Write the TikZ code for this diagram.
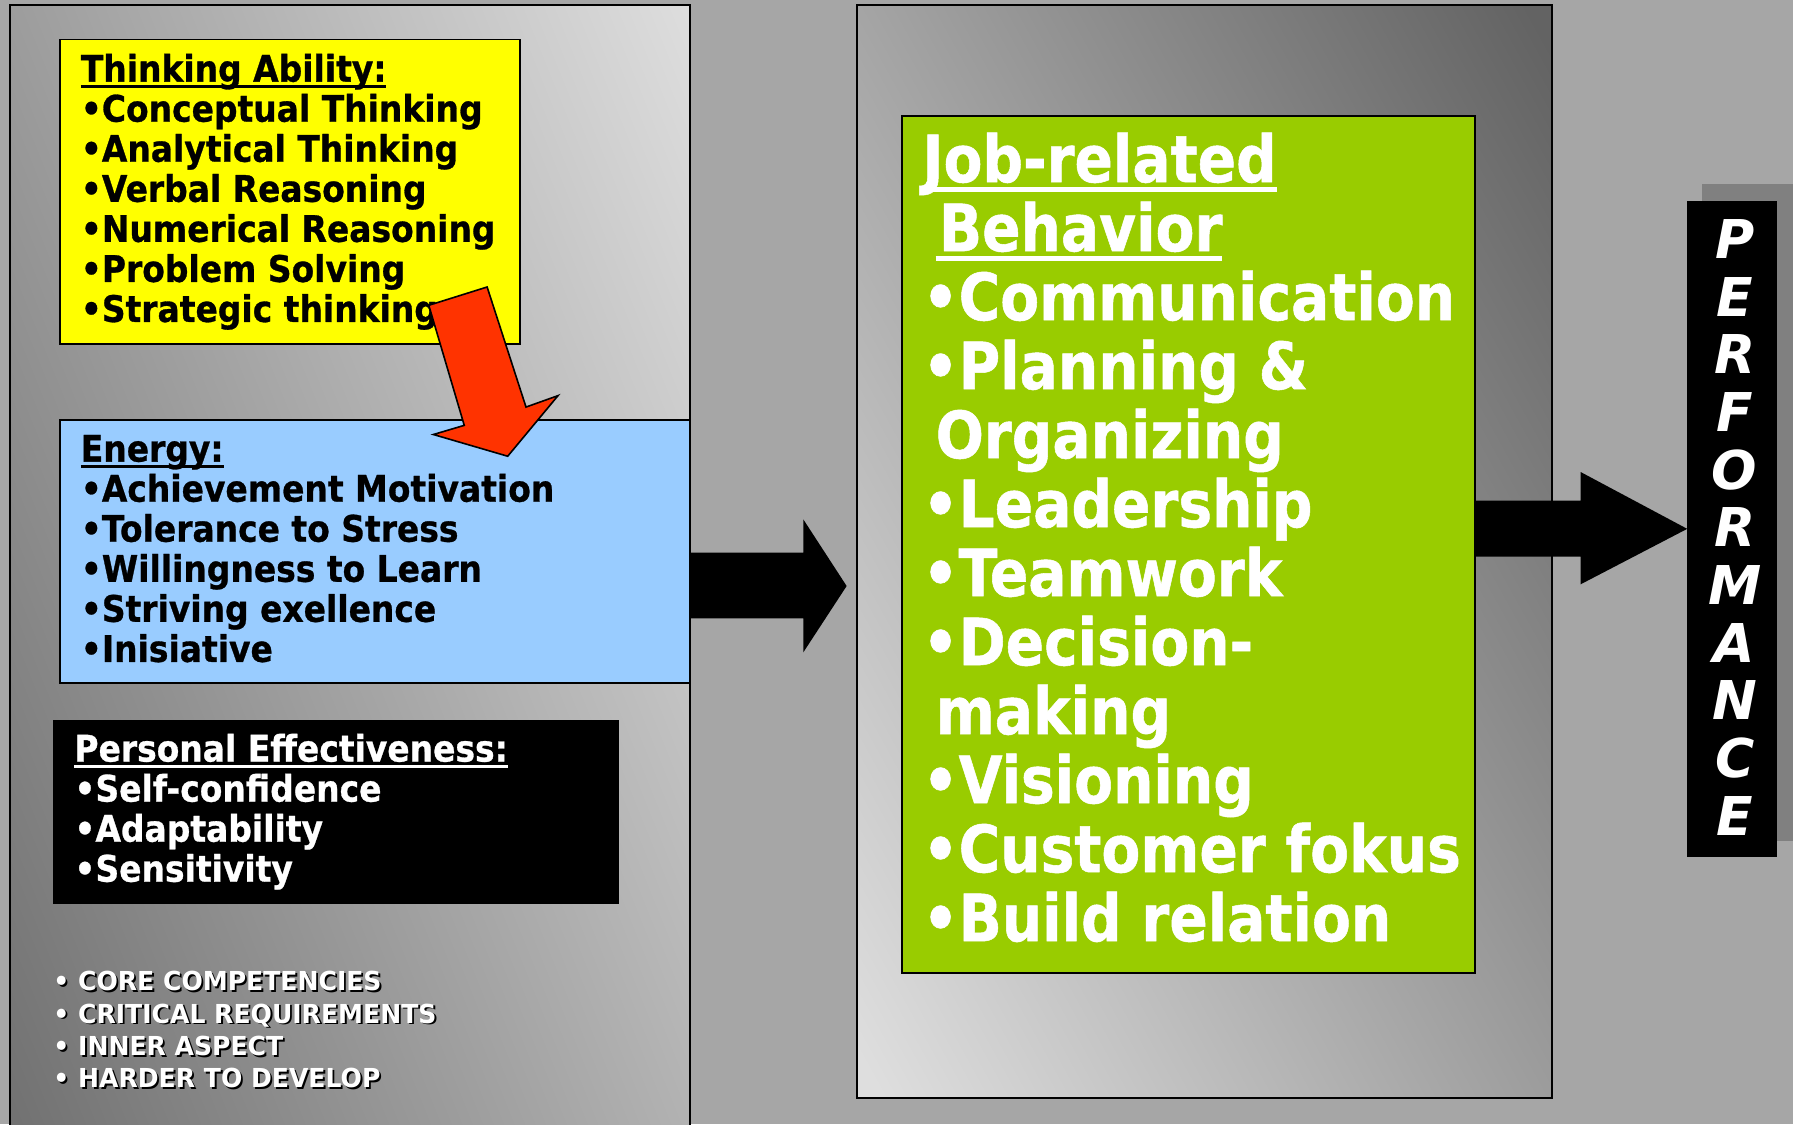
\documentclass[tikz,border=0pt]{standalone}
\usepackage{fontspec}
\setmainfont{DejaVu Sans}
\newfontfamily\tah{DejaVu Sans}[FakeStretch=0.9,BoldFeatures={FakeBold=0.8}]
\newfontfamily\tahg{DejaVu Sans}[FakeStretch=0.87,BoldFeatures={FakeBold=0.8}]
\newfontfamily\tahn{DejaVu Sans}[FakeStretch=0.96]
\newfontfamily\perf{DejaVu Sans}
\definecolor{bggray}{HTML}{A6A6A6}
\definecolor{lpLight}{HTML}{E2E2E2}
\definecolor{lpDark}{HTML}{6C6C6C}
\definecolor{rpDark}{HTML}{636363}
\definecolor{rpLight}{HTML}{DEDEDE}
\definecolor{yel}{HTML}{FFFF00}
\definecolor{blu}{HTML}{99CCFF}
\definecolor{grn}{HTML}{99CC00}
\definecolor{arrred}{HTML}{FF3300}
\definecolor{shad}{HTML}{808080}
\newcommand\myul[3]{\setbox0=\hbox{#3}\rlap{\rule[-#1]{\wd0}{#2}}\box0}
\begin{document}
\begin{tikzpicture}[x=0.01cm,y=-0.01cm,
  panel/.style={draw=black,line width=0.5pt},
  box/.style={draw=black,line width=0.45pt},
  txt/.style={inner sep=0pt,anchor=base west},
  smallfont/.style={font=\tah\bfseries\fontsize{9.1}{9.96}\selectfont},
  bigfont/.style={font=\tahg\bfseries\fontsize{16.2}{17.16}\selectfont},
  notefont/.style={font=\tahn\bfseries\fontsize{6.5}{8.05}\selectfont},
  perffont/.style={font=\perf\bfseries\itshape\fontsize{13.3}{14.34}\selectfont}]
\useasboundingbox (0,0) rectangle (1568,983);
\fill[bggray] (0,0) rectangle (1568,983);
% left panel
\begin{scope}
  \clip (8.6,4.4) rectangle (603,1000);
  \shade[top color=lpLight,bottom color=lpDark,shading angle=-68] (-194.2,2.2) rectangle (805.8,1002.2);
\end{scope}
\draw[panel] (8.6,4.4) rectangle (603,1000);
% right panel
\begin{scope}
  \clip (749.2,4.7) rectangle (1357,960);
  \shade[top color=rpDark,bottom color=rpLight,shading angle=-61] (573.1,2.35) rectangle (1533.1,962.35);
\end{scope}
\draw[panel] (749.2,4.7) rectangle (1357,960);
% boxes
\filldraw[box,fill=yel] (52.7,34.5) rectangle (455,300.5);
\filldraw[box,fill=blu] (52.7,367.3) rectangle (603,597.5);
\fill[black] (46,629.6) rectangle (541,790.6);
% texts
\node[txt,smallfont] (thinking) at (70,71.4) {\vtop{\lineskiplimit=-20pt
  \hbox{\myul{1.6pt}{0.8pt}{Thinking Ability:}}
  \hbox{•Conceptual Thinking}
  \hbox{•Analytical Thinking}
  \hbox{•Verbal Reasoning}
  \hbox{•Numerical Reasoning}
  \hbox{•Problem Solving}
  \hbox{•Strategic thinking}}};
\node[txt,smallfont] (energy) at (70,403.7) {\vtop{\lineskiplimit=-20pt
  \hbox{\myul{1.6pt}{0.8pt}{Energy:}}
  \hbox{•Achievement Motivation}
  \hbox{•Tolerance to Stress}
  \hbox{•Willingness to Learn}
  \hbox{•Striving exellence}
  \hbox{•Inisiative}}};
\node[txt,smallfont,text=white] (personal) at (64.4,666) {\vtop{\lineskiplimit=-20pt
  \hbox{\color{white}\myul{1.6pt}{0.8pt}{Personal Effectiveness:}}
  \hbox{•Self-confidence}
  \hbox{•Adaptability}
  \hbox{•Sensitivity}}};
% notes with shadow
\node[txt,notefont,text=black] (notesshadow) at (47.6,868) {\vtop{\lineskiplimit=-20pt
  \hbox{•\ CORE COMPETENCIES}
  \hbox{•\ CRITICAL REQUIREMENTS}
  \hbox{•\ INNER ASPECT}
  \hbox{•\ HARDER TO DEVELOP}}};
\node[txt,notefont,text=white] (notes) at (46,866.4) {\vtop{\lineskiplimit=-20pt
  \hbox{•\ CORE COMPETENCIES}
  \hbox{•\ CRITICAL REQUIREMENTS}
  \hbox{•\ INNER ASPECT}
  \hbox{•\ HARDER TO DEVELOP}}};
% red arrow
\filldraw[fill=arrred,draw=black,line width=0.4pt,line join=miter]
  (375,267) -- (426,251) -- (460,356) -- (488,346) -- (444,399) -- (379,380) -- (406,372) -- cycle;
% middle black arrow
\coordinate (mtip) at (740.4,512.5);
\fill[black] (603.4,483.3) -- (702.5,483.3) -- (702.5,454.2) -- (mtip) -- (702.5,570.5) -- (702.5,540.7) -- (603.4,540.7) -- cycle;
% green box
\filldraw[fill=grn,draw=black,line width=0.55pt] (789,101.5) rectangle (1290,851);
\node[txt,bigfont,text=white] (job) at (806,159.3) {\vtop{\lineskiplimit=-20pt
  \hbox{\color{white}\myul{2.4pt}{1.3pt}{Job-related}}
  \hbox{\kern3.3pt\color{white}\myul{2.4pt}{1.3pt}{\kern0.8pt Behavior}}
  \hbox{•Communication}
  \hbox{•Planning \&}
  \hbox{\kern3.3pt Organizing}
  \hbox{•Leadership}
  \hbox{•Teamwork}
  \hbox{•Decision-}
  \hbox{\kern3.3pt making}
  \hbox{•Visioning}
  \hbox{•Customer fokus}
  \hbox{•Build relation}}};
% right black arrow
\coordinate (rtip) at (1475.5,462.5);
\fill[black] (1290,437.9) -- (1382.3,437.9) -- (1382.3,412.8) -- (rtip) -- (1382.3,511) -- (1382.3,486.8) -- (1290,486.8) -- cycle;
% performance
\fill[shad] (1488.5,161.3) rectangle (1568,735.5);
\fill[black] (1475.5,176) rectangle (1554,749.5);
\node[inner sep=0pt,anchor=base,perffont,text=white] (perf) at (1517,226) {\vtop{\lineskiplimit=-20pt
  \hbox to 0pt{\hss P\hss}
  \hbox to 0pt{\hss E\hss}
  \hbox to 0pt{\hss R\hss}
  \hbox to 0pt{\hss F\hss}
  \hbox to 0pt{\hss O\hss}
  \hbox to 0pt{\hss R\hss}
  \hbox to 0pt{\hss M\hss}
  \hbox to 0pt{\hss A\hss}
  \hbox to 0pt{\hss N\hss}
  \hbox to 0pt{\hss C\hss}
  \hbox to 0pt{\hss E\hss}}};
\end{tikzpicture}
\end{document}
